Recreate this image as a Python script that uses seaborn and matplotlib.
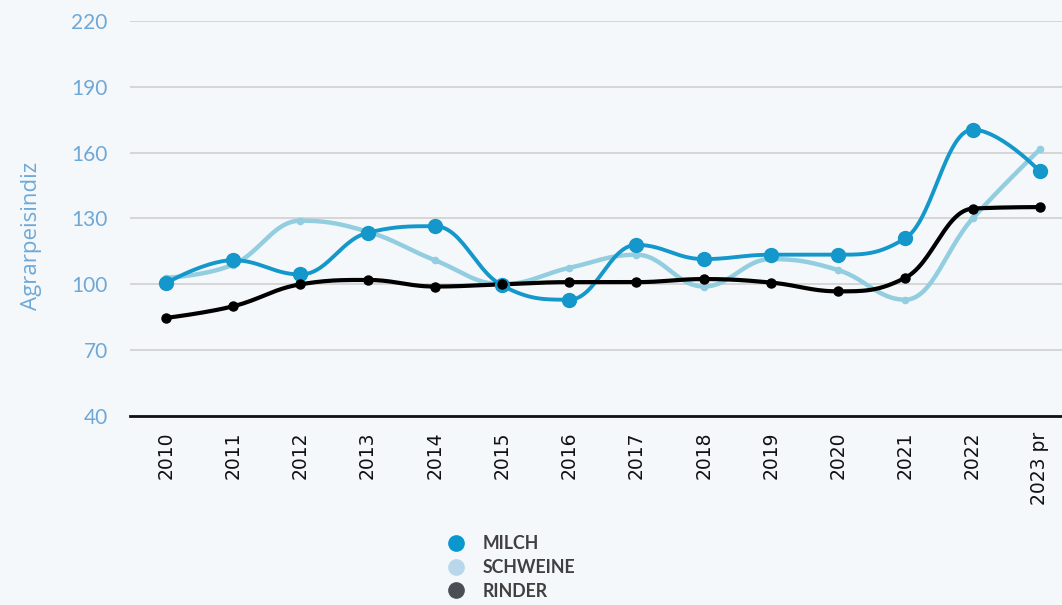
import matplotlib
import numpy as np
import pandas as pd
import seaborn as sns
from matplotlib.lines import Line2D

matplotlib.use("Agg")
import matplotlib.pyplot as plt

years = ["2010", "2011", "2012", "2013", "2014", "2015", "2016",
         "2017", "2018", "2019", "2020", "2021", "2022", "2023 pr"]
milch = [100.5, 111, 104.5, 123.5, 126.5, 99.5, 93, 118, 111.5, 113.5, 113.5, 121, 170.5, 151.5]
schweine = [103, 109, 129, 124, 111, 100, 107.5, 113.5, 99, 111.5, 106.5, 93, 130, 161.5]
rinder = [84.7, 90, 100, 102, 99, 100, 101, 101, 102.4, 100.8, 96.8, 103, 134.5, 135.2]

BG = "#f5f8fb"
C_MILCH = "#1497cb"
C_SCHWEINE = "#92cee0"
C_RINDER = "#000000"
C_AXIS_TXT = "#6fa8d6"


def spline_path(values, smoothing=1.5, steps=30):
    # Highcharts-style spline: cubic bezier per segment with corrected control points
    x = np.arange(len(values), dtype=float)
    y = np.asarray(values, dtype=float)
    n = len(y)
    denom = smoothing + 1
    lcx, lcy = x.copy(), y.copy()
    rcx, rcy = x.copy(), y.copy()
    for i in range(1, n - 1):
        lx = (smoothing * x[i] + x[i - 1]) / denom
        ly = (smoothing * y[i] + y[i - 1]) / denom
        rx = (smoothing * x[i] + x[i + 1]) / denom
        ry = (smoothing * y[i] + y[i + 1]) / denom
        corr = (ry - ly) * (rx - x[i]) / (rx - lx) + y[i] - ry
        ly += corr
        ry += corr
        if ly > y[i - 1] and ly > y[i]:
            ly = max(y[i - 1], y[i]); ry = 2 * y[i] - ly
        elif ly < y[i - 1] and ly < y[i]:
            ly = min(y[i - 1], y[i]); ry = 2 * y[i] - ly
        if ry > y[i + 1] and ry > y[i]:
            ry = max(y[i + 1], y[i]); ly = 2 * y[i] - ry
        elif ry < y[i + 1] and ry < y[i]:
            ry = min(y[i + 1], y[i]); ly = 2 * y[i] - ry
        lcx[i], lcy[i], rcx[i], rcy[i] = lx, ly, rx, ry
    t = np.linspace(0, 1, steps)[:, None]
    xs, ys = [], []
    for i in range(1, n):
        px = np.array([x[i - 1], rcx[i - 1], lcx[i], x[i]])
        py = np.array([y[i - 1], rcy[i - 1], lcy[i], y[i]])
        b = np.hstack([(1 - t) ** 3, 3 * (1 - t) ** 2 * t, 3 * (1 - t) * t ** 2, t ** 3])
        xs.append(b @ px)
        ys.append(b @ py)
    return np.concatenate(xs), np.concatenate(ys)


sns.set_style("white")
plt.rcParams["font.family"] = ["Lato", "DejaVu Sans"]

fig = plt.figure(figsize=(10.62, 6.05), dpi=100, facecolor=BG)
ax = fig.add_axes([130 / 1062, 1 - 416 / 605, 1 - 130 / 1062, (416 - 21) / 605])
ax.set_facecolor(BG)

series = [
    (schweine, C_SCHWEINE, 3.2, 4.5),
    (milch, C_MILCH, 2.8, 10),
    (rinder, C_RINDER, 3.0, 6.5),
]
pos = np.arange(len(years))
for vals, col, lw, ms in series:
    sx, sy = spline_path(vals)
    sns.lineplot(x=sx, y=sy, sort=False, estimator=None, color=col, linewidth=lw, ax=ax, zorder=3)
    ax.plot(pos, vals, linestyle="none", marker="o", markersize=ms, color=col, zorder=4)

ax.set_xlim(-0.535, 13.33)
ax.set_ylim(40, 220)
ax.set_yticks([40, 70, 100, 130, 160, 190, 220])
ax.set_xticks(pos)
ax.set_xticklabels(years, rotation=90, fontsize=13.5, color="#111111", family="DejaVu Sans")
ax.tick_params(axis="y", length=0, pad=16, labelsize=15, labelcolor=C_AXIS_TXT)
ax.tick_params(axis="x", length=0, pad=11)
ax.grid(axis="y", color="#d3d3d3", linewidth=1.3)
ax.set_axisbelow(True)
for side in ["top", "right", "left"]:
    ax.spines[side].set_visible(False)
ax.spines["bottom"].set_color("#111111")
ax.spines["bottom"].set_linewidth(2)
ax.set_ylabel("Agrarpeisindiz", fontsize=16, color=C_AXIS_TXT, family="Open Sans")
ax.yaxis.set_label_coords((42 - 130) / 932, (416 - 236) / 395)

handles = [
    Line2D([], [], linestyle="none", marker="o", markersize=11, color="#0a96cf", label="MILCH"),
    Line2D([], [], linestyle="none", marker="o", markersize=11, color="#b8d7ea", label="SCHWEINE"),
    Line2D([], [], linestyle="none", marker="o", markersize=11, color="#4a4f55", label="RINDER"),
]
leg = fig.legend(handles=handles, loc="upper left", bbox_to_anchor=(422 / 1062, 1 - 519 / 605),
                 frameon=False, handletextpad=0.5, labelspacing=0.38,
                 prop={"family": "Lato", "weight": "bold", "size": 12.8})
for txt in leg.get_texts():
    txt.set_color("#404040")

fig.savefig("out.png", dpi=100, facecolor=BG)
